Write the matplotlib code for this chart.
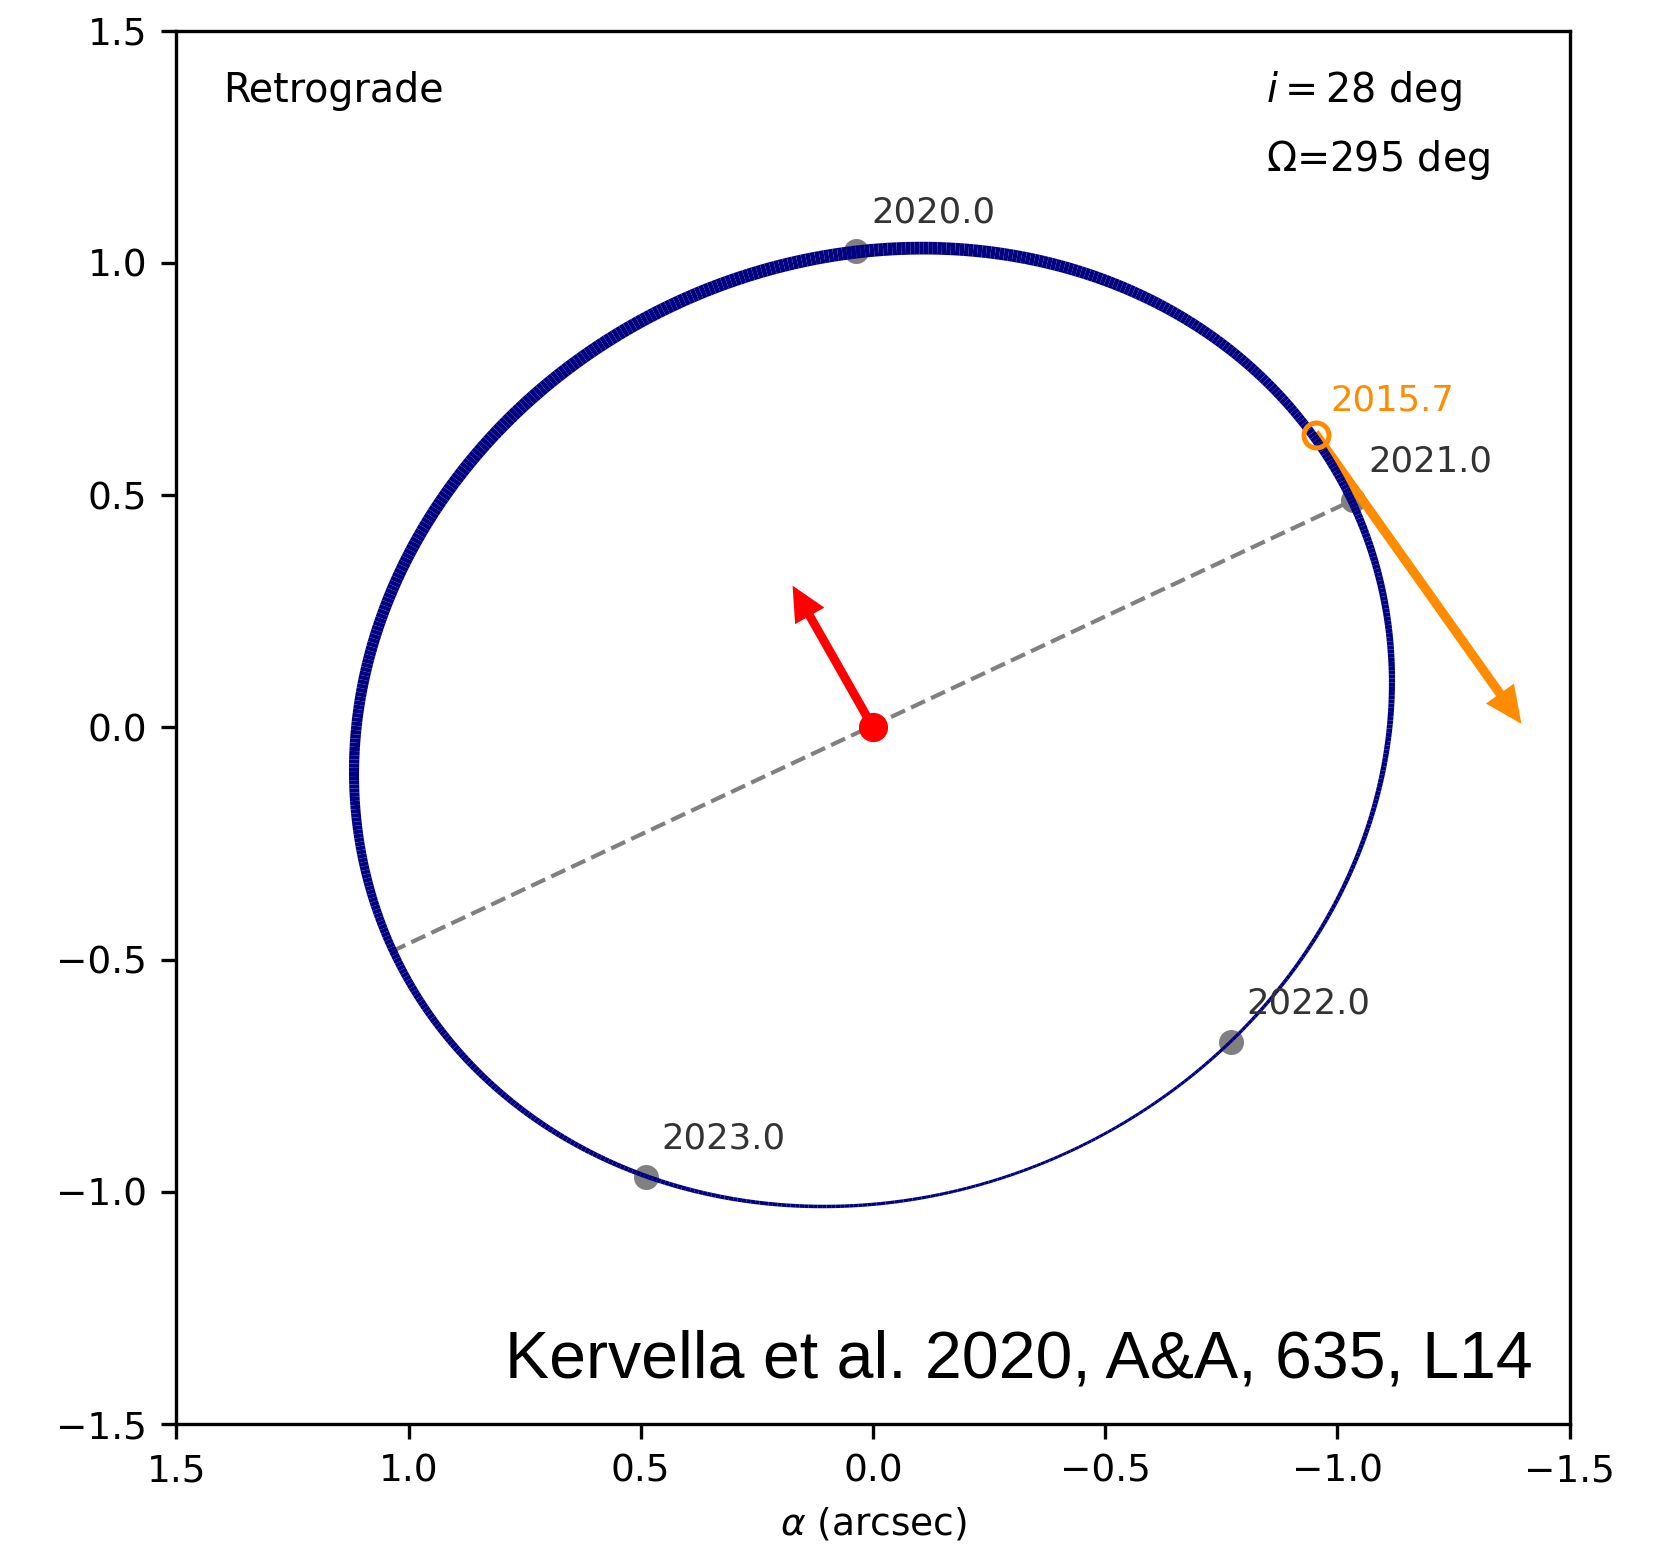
#!/usr/bin/env python3
import numpy as np
import matplotlib.pyplot as plt
from matplotlib.collections import LineCollection

# orbit elements (circular orbit)
semi_major = 1.14      # arcsec
inclination = 28.0     # deg
node_angle = 295.0     # deg (Omega)

# epoch positions (alpha, delta) in arcsec
epochs = ["2020.0", "2021.0", "2022.0", "2023.0"]
epoch_x = [0.037, -1.033, -0.770, 0.489]
epoch_y = [1.025, 0.489, -0.678, -0.969]

# 2015.7 position and its velocity vector
obs_label = "2015.7"
obs_x, obs_y = -0.954, 0.630
obs_dx, obs_dy = -0.436, -0.614

# star and its proper motion anomaly vector
star_x, star_y = 0.0, 0.0
pma_dx, pma_dy = 0.168, 0.296

# line of nodes end points
nodes_x = [1.037, -1.033]
nodes_y = [-0.483, 0.489]


def main():
    fig = plt.figure(figsize=(1654 / 300, 1546 / 300), dpi=300)
    ax = fig.add_axes([0.1058, 0.0789, 0.8440, 0.9013])

    # orbit in the sky plane
    theta = np.linspace(0, 2 * np.pi, 721)
    om = np.radians(node_angle)
    inc = np.radians(inclination)
    n = np.array([np.sin(om), np.cos(om)])
    p = np.array([np.sin(om + np.pi / 2), np.cos(om + np.pi / 2)])
    u = semi_major * np.cos(theta)
    v = semi_major * np.cos(inc) * np.sin(theta)
    x = u * n[0] + v * p[0]
    y = u * n[1] + v * p[1]
    pts = np.column_stack([x, y]).reshape(-1, 1, 2)
    segs = np.concatenate([pts[:-1], pts[1:]], axis=1)
    mid = 0.5 * (theta[:-1] + theta[1:])
    widths = 1.95 + 1.25 * np.sin(mid)
    lc = LineCollection(segs, colors="navy", linewidths=widths, zorder=3,
                        capstyle="butt")
    ax.add_collection(lc)

    ax.plot(nodes_x, nodes_y, "--", color="gray", lw=1.0, zorder=1)

    ax.plot(epoch_x, epoch_y, "o", color="gray", ms=5, zorder=1)
    for lab, ex, ey in zip(epochs, epoch_x, epoch_y):
        ax.text(ex - 0.034, ey + 0.084, lab, fontsize=8.5, color="0.2",
                ha="left", va="center")

    ax.arrow(obs_x, obs_y, obs_dx, obs_dy, width=0.011, head_width=0.06,
             head_length=0.065, length_includes_head=True,
             color="darkorange", zorder=2)
    ax.plot([obs_x], [obs_y], "o", mfc="none", mec="darkorange", mew=1.2,
            ms=6, zorder=4)
    ax.text(obs_x - 0.03, obs_y + 0.074, obs_label, fontsize=8.5,
            color="darkorange", ha="left", va="center")

    ax.arrow(star_x, star_y, pma_dx, pma_dy, width=0.010, head_width=0.058,
             head_length=0.06, length_includes_head=True, color="red",
             zorder=4)
    ax.plot([star_x], [star_y], "o", color="red", ms=6, zorder=5)

    ax.text(1.4, 1.37, "Retrograde", fontsize=9.5, ha="left", va="center")
    ax.text(-0.847, 1.37, r"$i = 28$ deg", fontsize=9.5, ha="left",
            va="center")
    ax.text(-0.847, 1.222, r"$\Omega$=295 deg", fontsize=9.5, ha="left",
            va="center")
    ax.text(-1.42, -1.40, "Kervella et al. 2020, A&A, 635, L14",
            fontsize=15.9, family="Liberation Sans", ha="right",
            va="baseline")

    ax.set_xlim(1.5, -1.5)
    ax.set_ylim(-1.5, 1.5)
    ax.set_xticks(np.arange(-1.5, 1.51, 0.5))
    ax.set_yticks(np.arange(-1.5, 1.51, 0.5))
    ax.tick_params(labelsize=9)
    ax.set_aspect("equal")
    ax.set_xlabel(r"$\alpha$ (arcsec)", fontsize=9)

    fig.savefig("out.png", dpi=300)


if __name__ == "__main__":
    main()
